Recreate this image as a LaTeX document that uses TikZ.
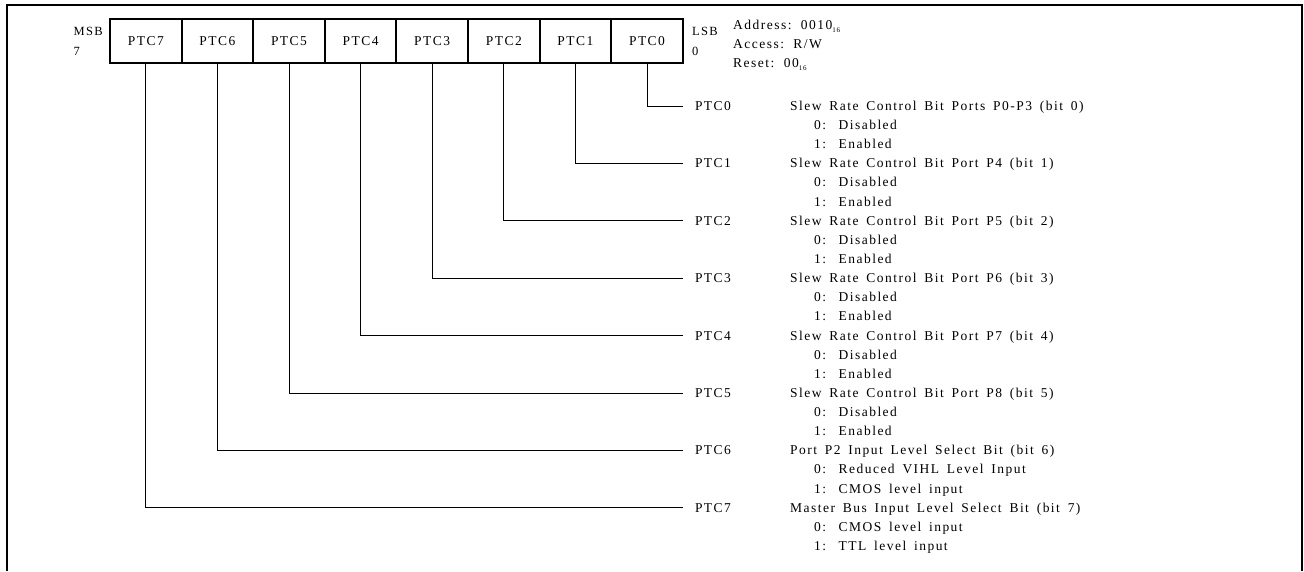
\documentclass[tikz,border=0pt]{standalone}
\usepackage{fontspec}
\setmainfont{Liberation Serif}[LetterSpace=11,WordSpace=1.6]
\usetikzlibrary{positioning}

\newcommand{\regfont}{\fontsize{13.5}{19}\selectfont}
\newcommand{\sidefont}{\fontsize{12.5}{20}\selectfont}
\newcommand{\hexsub}[1]{\raisebox{-3.5pt}{\fontsize{7}{7}\selectfont #1}}

\tikzset{
  regbox/.style={draw, line width=2pt, minimum width=71.6pt, minimum height=44pt,
    inner sep=0pt, outer sep=0pt, font=\regfont},
  sidetxt/.style={align=left, inner sep=0pt, font=\sidefont},
  infotxt/.style={anchor=base west, inner sep=0pt, font=\regfont},
  bitlbl/.style={anchor=west, inner xsep=12pt, inner ysep=0pt, outer sep=0pt,
    text height=8.9pt, text depth=0pt, font=\regfont},
  desc/.style={anchor=west, inner sep=0pt, text height=8.9pt, text depth=0pt, font=\regfont},
  link/.style={line width=1pt},
}

\begin{document}
\begin{tikzpicture}[x=1pt,y=-1pt]
  \useasboundingbox (0,0) rectangle (1304,571);
  % frame, open at the bottom
  \draw[line width=2pt] (7,571) -- (7,5) -- (1302,5) -- (1302,571);

  % register bits
  \node[regbox] (b7) at (145.8,41) {PTC7};
  \node[regbox] (b6) at (217.4,41) {PTC6};
  \node[regbox] (b5) at (289.0,41) {PTC5};
  \node[regbox] (b4) at (360.6,41) {PTC4};
  \node[regbox] (b3) at (432.2,41) {PTC3};
  \node[regbox] (b2) at (503.8,41) {PTC2};
  \node[regbox] (b1) at (575.4,41) {PTC1};
  \node[regbox] (b0) at (647.0,41) {PTC0};
  \node[sidetxt, left=7pt of b7] (msb) {MSB\\7};
  \node[sidetxt, right=9pt of b0] (lsb) {LSB\\0};

  % register info
  \node[infotxt] (addr) at (733,29) {Address: 0010\hexsub{16}};
  \node[infotxt] (acc) at (733,48) {Access: R/W};
  \node[infotxt] (rst) at (733,67) {Reset: 00\hexsub{16}};

  % bit names
  \node[bitlbl] (l0) at (683,106.0) {PTC0};
  \node[bitlbl] (l1) at (683,163.4) {PTC1};
  \node[bitlbl] (l2) at (683,220.8) {PTC2};
  \node[bitlbl] (l3) at (683,278.2) {PTC3};
  \node[bitlbl] (l4) at (683,335.6) {PTC4};
  \node[bitlbl] (l5) at (683,393.0) {PTC5};
  \node[bitlbl] (l6) at (683,450.4) {PTC6};
  \node[bitlbl] (l7) at (683,507.8) {PTC7};

  % connectors
  \draw[link] (b0) |- (l0);
  \draw[link] (b1) |- (l1);
  \draw[link] (b2) |- (l2);
  \draw[link] (b3) |- (l3);
  \draw[link] (b4) |- (l4);
  \draw[link] (b5) |- (l5);
  \draw[link] (b6) |- (l6);
  \draw[link] (b7) |- (l7);

  % bit descriptions
  \node[desc] (d0) at (790,106.0) {Slew Rate Control Bit Ports P0-P3 (bit 0)};
  \node[desc] (d0a) at (814,125.1) {0:\hspace{3pt} Disabled};
  \node[desc] (d0b) at (814,144.2) {1:\hspace{3pt} Enabled};
  \node[desc] (d1) at (790,163.4) {Slew Rate Control Bit Port P4 (bit 1)};
  \node[desc] (d1a) at (814,182.5) {0:\hspace{3pt} Disabled};
  \node[desc] (d1b) at (814,201.6) {1:\hspace{3pt} Enabled};
  \node[desc] (d2) at (790,220.8) {Slew Rate Control Bit Port P5 (bit 2)};
  \node[desc] (d2a) at (814,239.9) {0:\hspace{3pt} Disabled};
  \node[desc] (d2b) at (814,259.0) {1:\hspace{3pt} Enabled};
  \node[desc] (d3) at (790,278.2) {Slew Rate Control Bit Port P6 (bit 3)};
  \node[desc] (d3a) at (814,297.3) {0:\hspace{3pt} Disabled};
  \node[desc] (d3b) at (814,316.4) {1:\hspace{3pt} Enabled};
  \node[desc] (d4) at (790,335.6) {Slew Rate Control Bit Port P7 (bit 4)};
  \node[desc] (d4a) at (814,354.7) {0:\hspace{3pt} Disabled};
  \node[desc] (d4b) at (814,373.8) {1:\hspace{3pt} Enabled};
  \node[desc] (d5) at (790,393.0) {Slew Rate Control Bit Port P8 (bit 5)};
  \node[desc] (d5a) at (814,412.1) {0:\hspace{3pt} Disabled};
  \node[desc] (d5b) at (814,431.2) {1:\hspace{3pt} Enabled};
  \node[desc] (d6) at (790,450.4) {Port P2 Input Level Select Bit (bit 6)};
  \node[desc] (d6a) at (814,469.5) {0:\hspace{3pt} Reduced VIHL Level Input};
  \node[desc] (d6b) at (814,488.6) {1:\hspace{3pt} CMOS level input};
  \node[desc] (d7) at (790,507.8) {Master Bus Input Level Select Bit (bit 7)};
  \node[desc] (d7a) at (814,526.9) {0:\hspace{3pt} CMOS level input};
  \node[desc] (d7b) at (814,546.0) {1:\hspace{3pt} TTL level input};
\end{tikzpicture}
\end{document}
